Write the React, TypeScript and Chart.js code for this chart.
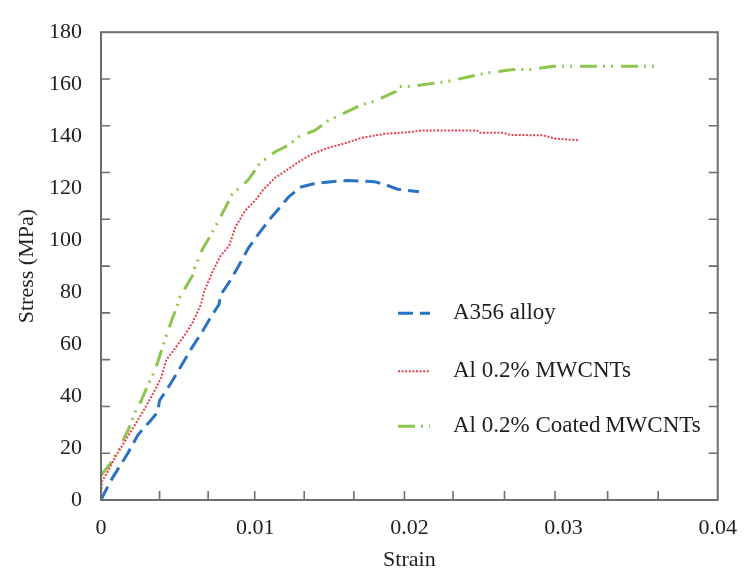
import React, { useEffect, useRef } from "react";
import { Chart, registerables } from "chart.js";

Chart.register(...registerables);

// ---- Data ----
const A356_STRAIN = [0, 0.0001, 0.00058, 0.00176, 0.0024, 0.00315, 0.00367, 0.0038, 0.00455, 0.0053, 0.00594, 0.00648, 0.00712, 0.00765, 0.00776, 0.0084, 0.00905, 0.00958, 0.01033, 0.01108, 0.01162, 0.01215, 0.0129, 0.01387, 0.01492, 0.01595, 0.01773, 0.01837, 0.01923, 0.02062];
const A356_STRESS = [0, 1.2, 6.9, 18.2, 25.1, 30.1, 33.8, 38.3, 45.1, 52.6, 59.0, 63.9, 70.3, 75.2, 78.9, 84.6, 91.4, 97.1, 103.3, 109.0, 112.7, 116.5, 120.3, 121.8, 122.5, 122.9, 122.5, 121.5, 119.6, 118.6];

const MWCNT_STRAIN = [0, 0.00005, 0.00047, 0.0009, 0.00154, 0.00219, 0.00283, 0.00347, 0.0039, 0.00423, 0.00487, 0.0054, 0.00594, 0.00648, 0.00669, 0.00722, 0.00776, 0.0083, 0.00873, 0.00937, 0.01001, 0.01055, 0.0113, 0.01194, 0.0128, 0.01365, 0.01473, 0.01597, 0.01687, 0.01837, 0.02008, 0.02073, 0.02437, 0.02459, 0.02609, 0.02652, 0.02866, 0.02952, 0.03102];
const MWCNT_STRESS = [0, 7, 11.3, 16.3, 22.5, 28.8, 35.1, 42.0, 47.0, 53.9, 58.9, 63.2, 68.3, 75.2, 80.2, 87.7, 94.0, 97.7, 105.2, 111.5, 115.3, 119.6, 124.0, 126.5, 130.0, 133.0, 135.5, 137.5, 139.3, 140.9, 141.6, 142.2, 142.2, 141.3, 141.3, 140.5, 140.3, 139.0, 138.4];

const COATED_STRAIN = [0, 0.00058, 0.00122, 0.00154, 0.00176, 0.0023, 0.00251, 0.00315, 0.00347, 0.00379, 0.00423, 0.00465, 0.00497, 0.00508, 0.00594, 0.00605, 0.00658, 0.00701, 0.00765, 0.00808, 0.00851, 0.00915, 0.00958, 0.01023, 0.01087, 0.0113, 0.01215, 0.0128, 0.01387, 0.01473, 0.01558, 0.01698, 0.01773, 0.01912, 0.01934, 0.02008, 0.02159, 0.02244, 0.02437, 0.02502, 0.02673, 0.0278, 0.0293, 0.03595];
const COATED_STRESS = [9.5, 13.8, 20.0, 24.4, 26.9, 35.1, 36.9, 45.7, 49.5, 55.1, 63.2, 70.2, 75.2, 77.7, 86.4, 89.0, 96.5, 100.8, 107.7, 112.7, 117.7, 120.9, 123.4, 129.0, 132.2, 134.0, 136.5, 139.7, 142.2, 145.9, 148.4, 152.2, 153.4, 157.2, 159.1, 159.1, 160.4, 161.0, 163.5, 164.3, 165.6, 165.6, 166.9, 166.9];

const SERIES_LABELS = ["A356 alloy", "Al 0.2% MWCNTs", "Al 0.2% Coated\u2009MWCNTs"];

// axis labels / tick marks
const X_MIN = 0, X_MAX = 0.04, X_STEP = 0.01;
const Y_MIN = 0, Y_MAX = 180, Y_STEP = 20;
const Y_TICK_MARKS = [18, 36, 54, 72, 90, 108, 126, 144, 162];
const X_TICK_MARKS = [0.0038, 0.00695, 0.00997, 0.01318, 0.0164, 0.01968, 0.02283, 0.02617, 0.02945, 0.03286, 0.03614];

const FONT = '"Liberation Serif", "Times New Roman", serif';
const TEXT = "#1e1e1e";
const FRAME = "#6e6e6e";

const toPoints = (xs: number[], ys: number[]) => xs.map((x, i) => ({ x, y: ys[i] }));

const decorPlugin = {
  id: "decor",
  afterDraw(chart: any) {
    const { ctx, chartArea } = chart;
    const { left, right, top, bottom } = chartArea;
    const xs = chart.scales.x;
    const ys = chart.scales.y;
    ctx.save();
    // frame
    ctx.strokeStyle = FRAME;
    ctx.lineWidth = 2;
    ctx.setLineDash([]);
    ctx.strokeRect(left, top, right - left, bottom - top);
    // inner tick marks
    ctx.lineWidth = 1.6;
    ctx.beginPath();
    for (const v of Y_TICK_MARKS) {
      const p = ys.getPixelForValue(v);
      ctx.moveTo(left, p); ctx.lineTo(left + 9, p);
      ctx.moveTo(right, p); ctx.lineTo(right - 9, p);
    }
    for (const v of X_TICK_MARKS) {
      const p = xs.getPixelForValue(v);
      ctx.moveTo(p, bottom); ctx.lineTo(p, bottom - 9);
    }
    ctx.stroke();
    // legend
    const rows = [top + 281, top + 339, top + 394];
    chart.data.datasets.forEach((ds: any, i: number) => {
      const y = rows[i];
      ctx.strokeStyle = ds.borderColor;
      ctx.lineWidth = ds.borderWidth;
      ctx.setLineDash(ds.borderDash || []);
      ctx.beginPath();
      ctx.moveTo(left + 297, y);
      ctx.lineTo(left + 329, y);
      ctx.stroke();
      ctx.setLineDash([]);
      ctx.fillStyle = TEXT;
      ctx.font = `23px ${FONT}`;
      ctx.textAlign = "left";
      ctx.textBaseline = "middle";
      ctx.fillText(ds.label, left + 352, y);
    });
    ctx.restore();
  },
};

export default function App() {
  const ref = useRef<HTMLCanvasElement | null>(null);
  useEffect(() => {
    if (!ref.current) return;
    const chart = new Chart(ref.current, {
      type: "scatter",
      data: {
        datasets: [
          {
            label: SERIES_LABELS[0],
            data: toPoints(A356_STRAIN, A356_STRESS),
            showLine: true,
            borderColor: "#2a72c2",
            borderWidth: 3,
            borderDash: [15, 7],
            pointRadius: 0,
            fill: false,
            tension: 0,
          },
          {
            label: SERIES_LABELS[1],
            data: toPoints(MWCNT_STRAIN, MWCNT_STRESS),
            showLine: true,
            borderColor: "#e8404a",
            borderWidth: 2,
            borderDash: [2, 1.6],
            pointRadius: 0,
            fill: false,
            tension: 0,
          },
          {
            label: SERIES_LABELS[2],
            data: toPoints(COATED_STRAIN, COATED_STRESS),
            showLine: true,
            borderColor: "#8cc64c",
            borderWidth: 3,
            borderDash: [17, 6, 2, 6, 2, 8],
            pointRadius: 0,
            fill: false,
            tension: 0,
          },
        ],
      },
      options: {
        animation: false,
        responsive: true,
        maintainAspectRatio: false,
        layout: { padding: { left: 0, top: 21, right: 29, bottom: 0 } },
        plugins: { legend: { display: false }, tooltip: { enabled: false } },
        scales: {
          x: {
            type: "linear",
            min: X_MIN,
            max: X_MAX,
            grid: { display: false, drawTicks: false },
            border: { display: false },
            ticks: {
              stepSize: X_STEP,
              padding: 15,
              color: TEXT,
              font: { family: FONT, size: 22 },
              maxRotation: 0,
              callback: (v: any) => String(Math.round(Number(v) * 100) / 100),
            },
            title: {
              display: true,
              text: "Strain",
              color: TEXT,
              font: { family: FONT, size: 22 },
              padding: { top: 4, bottom: 12 },
            },
            afterFit: (s: any) => { s.height = 85; },
          },
          y: {
            type: "linear",
            min: Y_MIN,
            max: Y_MAX,
            grid: { display: false, drawTicks: false },
            border: { display: false },
            ticks: {
              stepSize: Y_STEP,
              padding: 19,
              color: TEXT,
              font: { family: FONT, size: 22 },
            },
            title: {
              display: true,
              text: "Stress (MPa)",
              color: TEXT,
              font: { family: FONT, size: 22 },
              padding: { top: 14, bottom: 4 },
            },
            afterFit: (s: any) => { s.width = 101; },
          },
        },
      },
      plugins: [decorPlugin],
    });
    return () => chart.destroy();
  }, []);

  return (
    <div style={{ position: "fixed", left: 0, top: 0, width: 752, height: 585, background: "#fff" }}>
      <canvas ref={ref} />
    </div>
  );
}
